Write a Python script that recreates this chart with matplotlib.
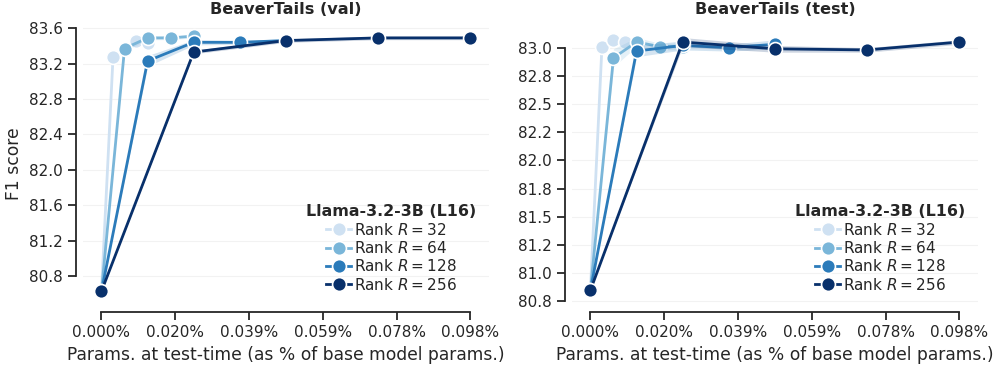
import matplotlib.pyplot as plt
import matplotlib.ticker as mticker
import numpy as np

# params at test-time (% of base model params), multiples of the smallest step
step = 0.098 / 32
ranks = [32, 64, 128, 256]
mults = [0, 1, 2, 3, 4]
labels = ['Rank $R = 32$', 'Rank $R = 64$', 'Rank $R = 128$', 'Rank $R = 256$']
colors = ['#cfe1f2', '#7ab6d9', '#2b7bba', '#08306b']

# F1 scores, BeaverTails (val)
val_r32 = [80.63, 83.27, 83.37, 83.46, 83.43]
val_r64 = [80.63, 83.37, 83.49, 83.49, 83.51]
val_r128 = [80.63, 83.23, 83.44, 83.44, 83.46]
val_r256 = [80.63, 83.33, 83.46, 83.49, 83.49]
val_err = [
    [0.0, 0.03, 0.03, 0.03, 0.03],
    [0.0, 0.03, 0.02, 0.02, 0.02],
    [0.0, 0.06, 0.03, 0.02, 0.02],
    [0.0, 0.02, 0.02, 0.02, 0.02],
]

# F1 scores, BeaverTails (test)
test_r32 = [80.85, 83.01, 83.07, 83.05, 83.03]
test_r64 = [80.85, 82.91, 83.05, 83.01, 83.01]
test_r128 = [80.85, 82.97, 83.02, 83.00, 83.03]
test_r256 = [80.85, 83.05, 82.99, 82.98, 83.05]
test_err = [
    [0.0, 0.03, 0.03, 0.03, 0.03],
    [0.0, 0.08, 0.04, 0.03, 0.03],
    [0.0, 0.05, 0.04, 0.03, 0.04],
    [0.0, 0.04, 0.03, 0.02, 0.02],
]

plt.rcParams['font.family'] = 'DejaVu Sans'
text_col = '#262626'

fig = plt.figure(figsize=(9.97, 3.66), dpi=100)
ax1 = fig.add_axes([0.0833, 0.167, 0.407, 0.773])
ax2 = fig.add_axes([0.5737, 0.167, 0.407, 0.773])

panels = [
    (ax1, 'BeaverTails (val)', [val_r32, val_r64, val_r128, val_r256], val_err,
     np.arange(80.8, 83.61, 0.4), (80.475, 83.67)),
    (ax2, 'BeaverTails (test)', [test_r32, test_r64, test_r128, test_r256], test_err,
     np.arange(80.75, 83.01, 0.25), (80.72, 83.228)),
]

for ax, title, series, errs, yticks, ylim in panels:
    for i, (r, ys) in enumerate(zip(ranks, series)):
        xs = np.array(mults) * (r / 32) * step
        ys = np.array(ys)
        e = np.array(errs[i])
        ax.fill_between(xs, ys - e, ys + e, color=colors[i], alpha=0.2, lw=0, zorder=2 + i)
        ax.plot(xs, ys, color=colors[i], lw=2, marker='o', ms=10,
                mec='white', mew=1.2, label=labels[i], zorder=3 + i)
    ax.set_xlim(-0.0049, 0.1029)
    ax.set_ylim(*ylim)
    ax.set_xticks(np.linspace(0, 0.098, 6))
    ax.xaxis.set_major_formatter(mticker.FormatStrFormatter('%.3f%%'))
    ax.set_yticks(yticks)
    ax.yaxis.set_major_formatter(mticker.FormatStrFormatter('%.1f'))
    ax.grid(axis='y', color='#f2f2f2', lw=0.8)
    ax.set_axisbelow(True)
    for s in ['top', 'right']:
        ax.spines[s].set_visible(False)
    for s in ['left', 'bottom']:
        ax.spines[s].set_position(('outward', 5))
        ax.spines[s].set_linewidth(1.3)
        ax.spines[s].set_color(text_col)
    ax.spines['left'].set_bounds(yticks[0], yticks[-1])
    ax.spines['bottom'].set_bounds(0, 0.098)
    ax.tick_params(labelsize=11, colors=text_col, width=1.3, length=6)
    ax.set_title(title, fontsize=11.6, fontweight='bold', color=text_col, pad=6)
    ax.set_xlabel('Params. at test-time (as % of base model params.)', fontsize=12.3, color=text_col)
    leg = ax.legend(title='Llama-3.2-3B (L16)', loc='lower right', frameon=False,
                    fontsize=11, handlelength=1.6, handletextpad=0.2, labelspacing=0.15,
                    borderaxespad=0.4, title_fontproperties={'weight': 'bold', 'size': 11.4})
    for t in leg.get_texts():
        t.set_color(text_col)
    leg.get_title().set_color(text_col)

ax1.set_ylabel('F1 score', fontsize=12.3, color=text_col)

fig.savefig('out.png', dpi=100)
